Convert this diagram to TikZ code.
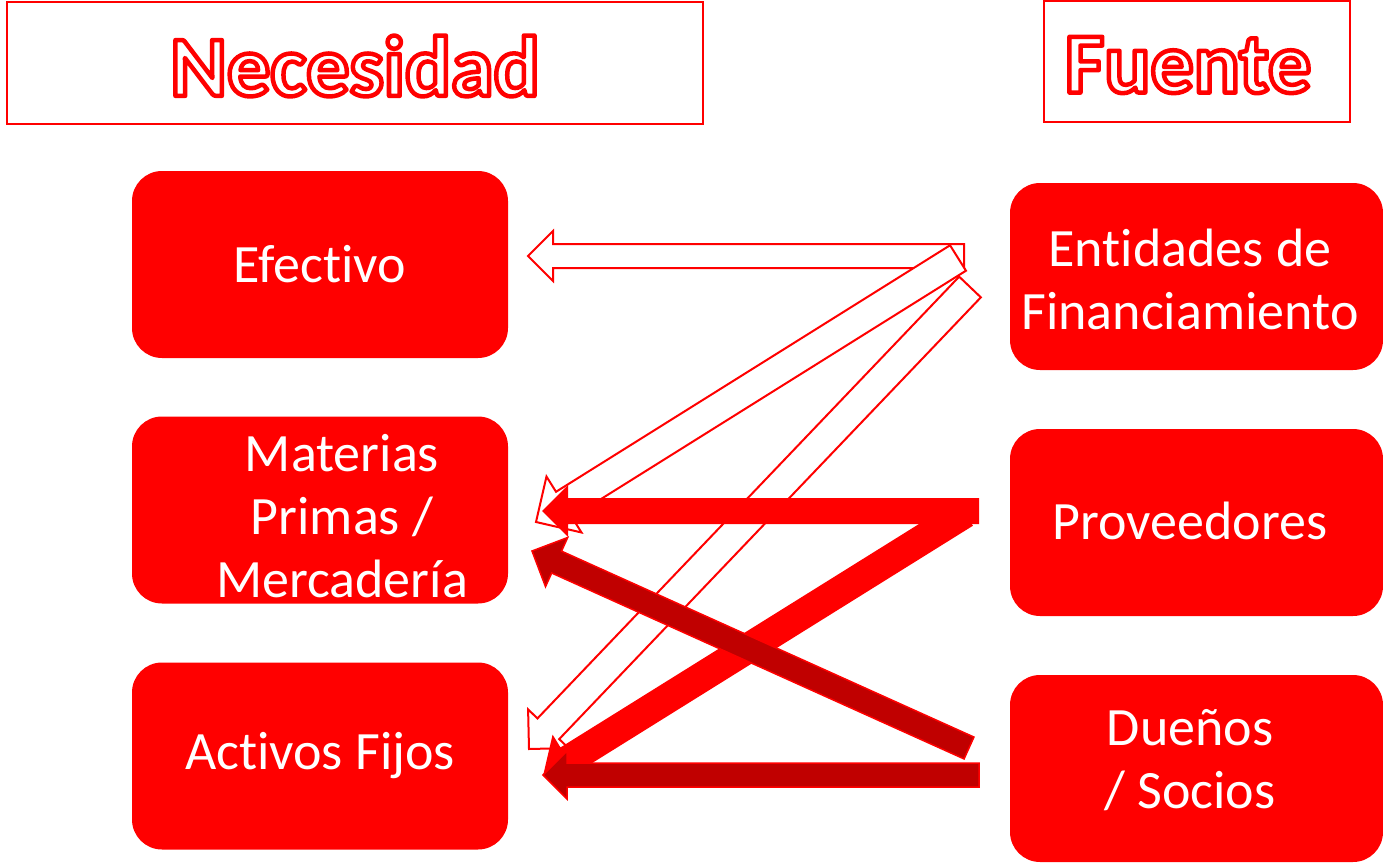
\documentclass[tikz,border=0pt]{standalone}
\usepackage{fontspec}
\setmainfont{Carlito}[Ligatures=NoCommon]
\usepackage{xcolor}
\usepackage{tikz}
\usetikzlibrary{calc}

\definecolor{rojo}{HTML}{FF0000}
\definecolor{rojooscuro}{HTML}{C00000}

% outlined title text: white fill, red stroke
\newcommand{\hueco}[1]{\special{pdf:literal direct 1 0 0 RG 4.5 w 1 j 2 Tr}#1\special{pdf:literal direct 0 Tr}}

% block arrow: style, tail, tip, half shaft, half head, head length
\newcommand{\flecha}[6]{%
	\coordinate (cuello) at ($(#3)!#6!(#2)$);
	\path[#1] ($(#2)!#4!90:(#3)$) -- ($(cuello)!#4!90:(#3)$) -- ($(cuello)!#5!90:(#3)$) -- (#3)
		-- ($(cuello)!#5!-90:(#3)$) -- ($(cuello)!#4!-90:(#3)$) -- ($(#2)!#4!-90:(#3)$) -- cycle;
}

\begin{document}
\begin{tikzpicture}[x=1pt, y=-1pt,
							titulo/.style={draw=rojo, line width=2.5pt, fill=white, inner sep=0pt, text=white,
								font=\fontsize{86}{96}\selectfont\bfseries},
							caja/.style={fill=rojo, rounded corners=30pt, minimum width=376pt, minimum height=187pt,
								inner sep=0pt, text=white, align=center, font=\fontsize{54}{63}\selectfont},
							texto/.style={inner sep=0pt, text=white, align=center, font=\fontsize{54}{63}\selectfont},
							hueca/.style={draw=rojo, fill=white, line width=2pt},
							llena/.style={fill=rojo},
							oscura/.style={fill=rojooscuro, draw=rojo, line width=1.5pt}]
			\useasboundingbox (0,0) rectangle (1383,864);
			% titles
			\node[titulo, minimum width=696pt, minimum height=122pt] (necesidad) at (355,63) {};
			\node[titulo, draw=none, fill=none] (necesidadTxt) at (355,66) {\hueco{Necesidad}};
			\node[titulo, minimum width=306pt, minimum height=121pt] (fuente) at (1197,61.5) {};
			\node[titulo, draw=none, fill=none] (fuenteTxt) at (1188,65) {\hueco{Fuente}};
			% left column
			\node[caja] (efectivo) at (320,264.5) {Efectivo};
			\node[caja] (materias) at (320,510) {};
			\node[texto] (materiasTxt) at (342,516) {Materias\\Primas /\\Mercadería};
			\node[caja] (activos) at (320,756) {Activos Fijos};
			% right column
			\node[caja, minimum width=373pt] (entidades) at (1196.5,276.5) {};
			\node[texto] (entidadesTxt) at (1190,279) {Entidades de\\Financiamiento};
			\node[caja, minimum width=373pt] (proveedores) at (1196.5,522.5) {};
			\node[texto] (proveedoresTxt) at (1190,521) {Proveedores};
			\node[caja, minimum width=373pt] (duenos) at (1196.5,768.5) {};
			\node[texto] (duenosTxt) at (1190,760) {Dueños\\/ Socios};
			% arrow ends
			\coordinate (cola1) at (964,256);   \coordinate (punta1) at (528,256);
			\coordinate (cola2) at (958,258);   \coordinate (punta2) at (536,522);
			\coordinate (cola3) at (970,287);   \coordinate (punta3) at (529,749);
			\coordinate (cola4) at (979,511);   \coordinate (punta4) at (542,511);
			\coordinate (cola5) at (965,513);   \coordinate (punta5) at (543,776);
			\coordinate (cola6) at (969,748);   \coordinate (punta6) at (532,551);
			\coordinate (cola7) at (979,775);   \coordinate (punta7) at (543,775);
			% arrows
			\flecha{hueca}{cola1}{punta1}{12pt}{25pt}{25pt}
			\flecha{hueca}{cola2}{punta2}{15pt}{33pt}{33pt}
			\flecha{hueca}{cola3}{punta3}{15pt}{28pt}{28pt}
			\flecha{llena}{cola4}{punta4}{13pt}{26pt}{26pt}
			\flecha{llena}{cola5}{punta5}{15pt}{30pt}{30pt}
			\flecha{oscura}{cola6}{punta6}{12pt}{27pt}{27pt}
			\flecha{oscura}{cola7}{punta7}{12pt}{24pt}{24pt}
		\end{tikzpicture}
\end{document}
